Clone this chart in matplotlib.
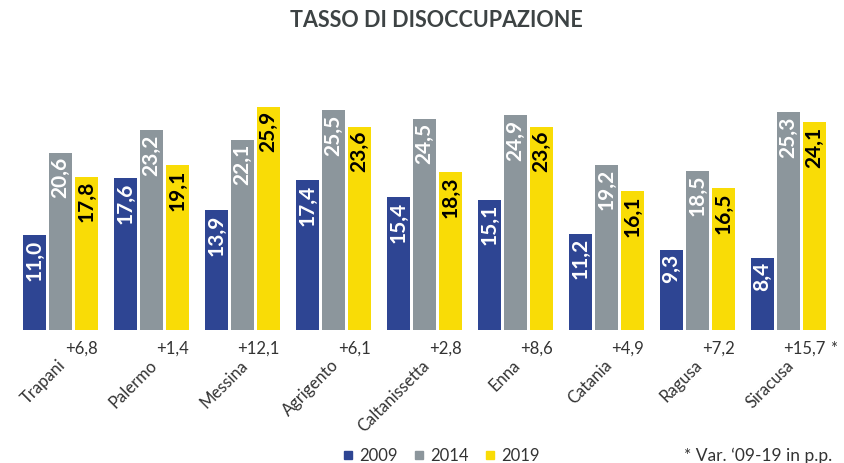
import numpy as np
import matplotlib
matplotlib.use('Agg')
import matplotlib.pyplot as plt
from matplotlib.lines import Line2D

plt.rcParams['font.family'] = ['Lato', 'DejaVu Sans']

provinces = ['Trapani', 'Palermo', 'Messina', 'Agrigento', 'Caltanissetta',
             'Enna', 'Catania', 'Ragusa', 'Siracusa']
y2009 = [11.0, 17.6, 13.9, 17.4, 15.4, 15.1, 11.2, 9.3, 8.4]
y2014 = [20.6, 23.2, 22.1, 25.5, 24.5, 24.9, 19.2, 18.5, 25.3]
y2019 = [17.8, 19.1, 25.9, 23.6, 18.3, 23.6, 16.1, 16.5, 24.1]
deltas = ['+6,8', '+1,4', '+12,1', '+6,1', '+2,8', '+8,6', '+4,9', '+7,2', '+15,7']
years = ['2009', '2014', '2019']

blue = '#2e4593'
gray = '#8c969c'
yellow = '#f9dc06'
txt = '#333333'

fig = plt.figure(figsize=(8.45, 4.63), dpi=100)
ax = fig.add_axes([0.0178, 0.287, 0.969, 0.5214])

x = np.arange(len(provinces))
step = 0.2857
w = 0.253
series = [(y2009, blue, 'white'), (y2014, gray, 'white'), (y2019, yellow, 'black')]
for k, (vals, col, lcol) in enumerate(series):
    xs = x + (k - 1) * step
    ax.bar(xs, vals, width=w, color=col, edgecolor='none')
    for xi, v in zip(xs, vals):
        ax.text(xi, v - 0.5, f'{v:.1f}'.replace('.', ','), rotation=90,
                ha='center', va='top', color=lcol, fontsize=15, fontweight='bold')

ax.set_xlim(-0.5, len(provinces) - 0.5)
ax.set_ylim(0, 28)
ax.axis('off')

# category names and variation labels under the groups
for xi, name, d in zip(x, provinces, deltas):
    ax.text(xi + 0.03, -3.8, name, rotation=45, rotation_mode='anchor',
            ha='right', va='center', fontsize=12, color=txt)
    ax.text(xi + step + w / 2, -2.2, d, ha='right', va='center',
            fontsize=12, color=txt)
ax.text(x[-1] + step + w / 2 + 0.05, -2.2, '*', ha='left', va='center',
        fontsize=12, color=txt)

fig.text(0.516, 0.956, 'TASSO DI DISOCCUPAZIONE', ha='center', va='center',
         fontsize=15.5, fontweight='bold', color='#3d4344')

handles = [Line2D([], [], marker='s', linestyle='none', markersize=6,
                  color=c) for c in (blue, gray, yellow)]
fig.legend(handles, years, loc='center', bbox_to_anchor=(0.522, 0.016),
           ncol=3, frameon=False, fontsize=12, handlelength=0.7,
           handletextpad=0.35, columnspacing=0.9, labelcolor=txt)
fig.text(0.81, 0.016, '* Var. \u201809-19 in p.p.', ha='left', va='center',
         fontsize=12.5, color=txt)

fig.savefig('out.png', dpi=100, facecolor='white')
